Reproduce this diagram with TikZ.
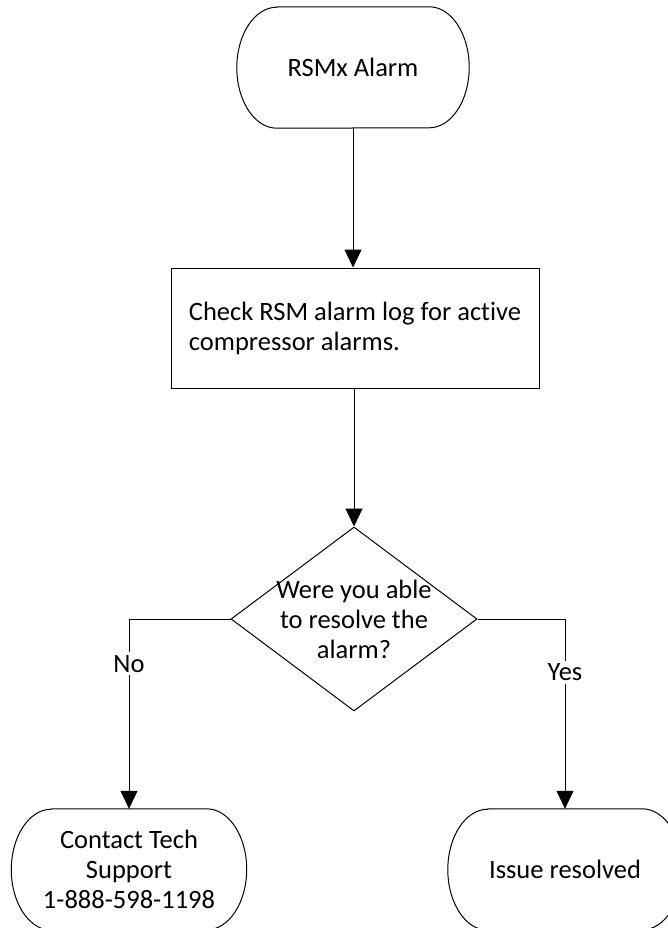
\documentclass[tikz,border=0pt]{standalone}
\usepackage{fontspec}
\setmainfont{Carlito}[Ligatures=CommonOff]
\usetikzlibrary{arrows.meta,shapes.geometric}

\begin{document}
\begin{tikzpicture}[x=1pt,y=-1pt,
  every node/.style={font=\fontsize{26.5}{30}\selectfont},
  outline/.style={draw=black,line width=1pt},
  termbox/.style={minimum width=232pt,minimum height=121pt,inner sep=0pt,align=center},
  procbox/.style={outline,rectangle,minimum width=368pt,minimum height=120pt,inner xsep=0pt,align=left},
  decbox/.style={outline,diamond,minimum width=246pt,minimum height=184pt,inner sep=0pt},
  flow/.style={line width=1pt,-{Triangle[length=18pt,width=17pt]}},
  lbl/.style={fill=white,inner sep=3pt}
]
\useasboundingbox (0,0) rectangle (668,928);

% nodes
\node[termbox] (start) at (353,67.5) {RSMx Alarm};
\node[procbox] (check) at (355,328) {Check RSM alarm log for active\\compressor alarms.};
\node[decbox] (dec) at (354,619) {};
\node[align=center] (dectext) at (dec.center) {Were you able\\to resolve the\\alarm?};
\node[termbox,minimum width=235pt] (support) at (129,869.5) {Contact Tech\\Support\\1-888-598-1198};
\node[termbox,minimum width=234pt] (done) at (565,869.5) {Issue resolved};

% terminator outlines: flat top and bottom with half-elliptic ends
\foreach \n in {start,support,done} {
  \draw[outline] ([xshift=40pt]\n.north west) -- ([xshift=-40pt]\n.north east)
    arc[start angle=90,end angle=-90,x radius=40pt,y radius=60.5pt]
    -- ([xshift=40pt]\n.south west)
    arc[start angle=270,end angle=90,x radius=40pt,y radius=60.5pt] -- cycle;
}

% connectors
\draw[flow] (start.south) -- (start.south |- check.north);
\draw[flow] (check.south -| dec.north) -- (dec.north);
\draw[flow] (dec.west) -| node[lbl,pos=0.618] (no) {No} (support.north);
\draw[flow] (dec.east) -| node[lbl,pos=0.64] (yes) {Yes} (done.north);
\end{tikzpicture}
\end{document}
